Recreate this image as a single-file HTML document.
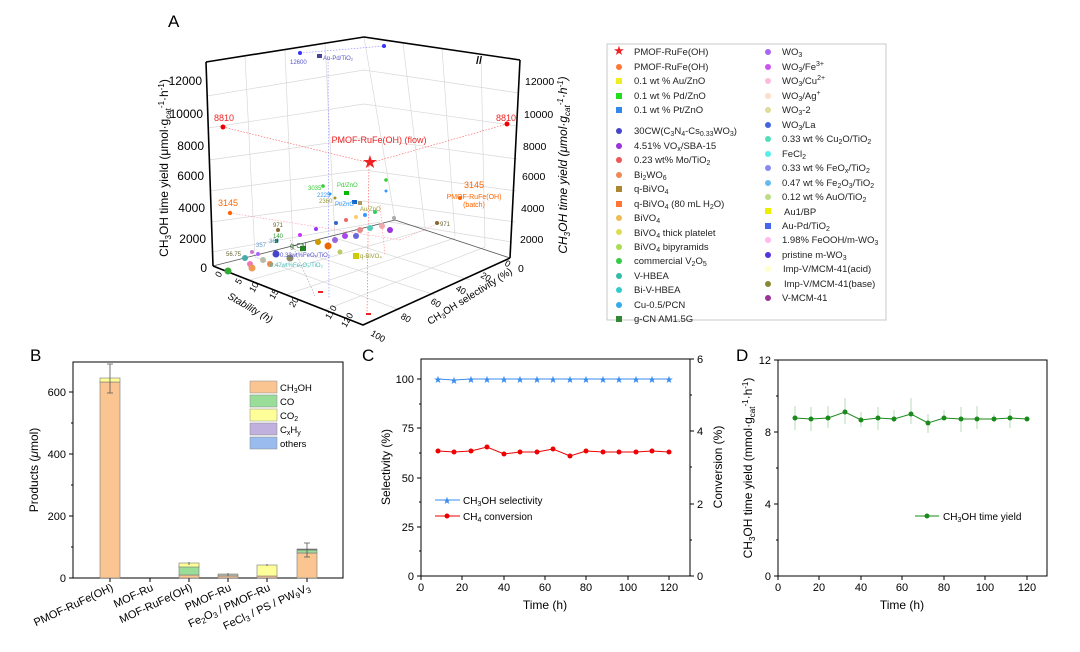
<!DOCTYPE html>
<html><head><meta charset="utf-8"><style>
html,body{margin:0;padding:0;background:#fff;}
svg{display:block;font-family:"Liberation Sans",Arial,sans-serif;}
</style></head><body>
<svg width="1080" height="652" viewBox="0 0 1080 652" xmlns="http://www.w3.org/2000/svg">
<rect width="1080" height="652" fill="#fff"/>
<!-- ============ PANEL A ============ -->
<text x="168" y="27" font-size="17">A</text>
<g stroke="#d8d8d8" stroke-width="0.7" fill="none">
 <line x1="207" y1="96" x2="364" y2="70"/><line x1="208" y1="128" x2="364" y2="104"/>
 <line x1="209" y1="160" x2="364" y2="138"/><line x1="210" y1="191" x2="364" y2="170"/>
 <line x1="211" y1="222" x2="364" y2="201"/><line x1="212" y1="252" x2="380" y2="222"/>
 <line x1="364" y1="70" x2="519" y2="93"/><line x1="364" y1="104" x2="518" y2="126"/>
 <line x1="364" y1="138" x2="517" y2="159"/><line x1="364" y1="170" x2="516" y2="191"/>
 <line x1="364" y1="201" x2="515" y2="222"/><line x1="390" y1="222" x2="512" y2="242"/>
 <line x1="245" y1="56" x2="255" y2="257"/><line x1="285" y1="50" x2="293" y2="249"/>
 <line x1="325" y1="43" x2="335" y2="238"/><line x1="364" y1="37" x2="395" y2="220"/>
 <line x1="403" y1="43" x2="425" y2="228"/><line x1="442" y1="48" x2="455" y2="236"/>
 <line x1="481" y1="54" x2="485" y2="247"/>
 <line x1="250" y1="280" x2="425" y2="230"/><line x1="285" y1="295" x2="455" y2="238"/>
 <line x1="325" y1="310" x2="485" y2="247"/>
 <line x1="255" y1="257" x2="400" y2="310"/><line x1="293" y1="249" x2="435" y2="295"/>
 <line x1="335" y1="238" x2="470" y2="280"/>
</g>
<g stroke="#555" stroke-width="0.8" fill="none">
 <line x1="213" y1="266" x2="395" y2="220"/><line x1="395" y1="220" x2="510" y2="258"/>
</g>
<g stroke="#000" stroke-width="1.6" fill="none">
 <polyline points="206,62 364,37 520,60"/>
 <line x1="206" y1="62" x2="213" y2="266"/>
 <line x1="520" y1="60" x2="510" y2="258"/>
 <polyline points="213,266 363,325 510,258"/>
</g>
<text x="476" y="64" font-size="11" font-weight="bold">//</text>
<g font-size="12" text-anchor="end">
 <text x="202" y="85">12000</text><text x="203" y="118">10000</text><text x="204" y="150">8000</text>
 <text x="204" y="180">6000</text><text x="205" y="212">4000</text><text x="206" y="243">2000</text><text x="207" y="272">0</text>
</g>
<g font-size="10.5">
 <text x="525" y="85">12000</text><text x="524" y="118">10000</text><text x="523" y="150">8000</text>
 <text x="522" y="180">6000</text><text x="521" y="212">4000</text><text x="520" y="243">2000</text><text x="518" y="272">0</text>
</g>
<text transform="translate(168,168) rotate(-90)" font-size="12" text-anchor="middle">CH<tspan font-size="8" dy="3">3</tspan><tspan dy="-3">OH time yield (μmol·g</tspan><tspan font-size="8" dy="3">cat</tspan><tspan font-size="8" dy="-7">-1</tspan><tspan dy="4">·h</tspan><tspan font-size="8" dy="-4">-1</tspan><tspan dy="4">)</tspan></text>
<text transform="translate(567,165) rotate(-90)" font-size="12" font-style="italic" text-anchor="middle">CH<tspan font-size="8" dy="3">3</tspan><tspan dy="-3">OH time yield (μmol·g</tspan><tspan font-size="8" dy="3">cat</tspan><tspan font-size="8" dy="-7">-1</tspan><tspan dy="4">·h</tspan><tspan font-size="8" dy="-4">-1</tspan><tspan dy="4">)</tspan></text>
<g font-size="9">
 <text transform="translate(220,278) rotate(-60)">0</text>
 <text transform="translate(240,285) rotate(-60)">5</text>
 <text transform="translate(254,293) rotate(-60)">10</text>
 <text transform="translate(274,300) rotate(-60)">15</text>
 <text transform="translate(294,308) rotate(-60)">20</text>
 <text transform="translate(330,320) rotate(-60)">110</text>
 <text transform="translate(346,328) rotate(-60)">120</text>
 <text transform="translate(227,298) rotate(30)" font-size="10" font-style="italic">Stability (h)</text>
</g>
<g font-size="9">
 <text transform="translate(370,335) rotate(30)">100</text>
 <text transform="translate(400,318) rotate(30)">80</text>
 <text transform="translate(430,303) rotate(30)">60</text>
 <text transform="translate(455,290) rotate(30)">40</text>
 <text transform="translate(480,277) rotate(30)">20</text>
 <text transform="translate(504,265) rotate(30)">0</text>
 <text transform="translate(430,325) rotate(-32)" font-size="10">CH<tspan font-size="7" dy="2">3</tspan><tspan dy="-2">OH selectivity (%)</tspan></text>
</g>
<g stroke-dasharray="1.5,1.5" stroke-width="0.6" fill="none">
 <line x1="223" y1="127" x2="370" y2="163" stroke="#f55"/><line x1="370" y1="163" x2="507" y2="124" stroke="#f55"/>
 <line x1="369" y1="163" x2="367" y2="315" stroke="#f55"/><line x1="328" y1="56" x2="329" y2="298" stroke="#88f"/>
 <line x1="300" y1="53" x2="385" y2="46" stroke="#88f"/>
 <line x1="230" y1="213" x2="400" y2="240" stroke="#f9a"/><line x1="440" y1="223" x2="400" y2="240" stroke="#f9a"/>
 <line x1="290" y1="240" x2="315" y2="296" stroke="#999"/><line x1="380" y1="205" x2="385" y2="255" stroke="#f88"/>
</g>
<g>
 <circle cx="223" cy="127" r="2.5" fill="#e00"/><circle cx="507" cy="124" r="2.5" fill="#e00"/>
 <circle cx="230" cy="213" r="2.2" fill="#f60"/><circle cx="460" cy="198" r="2" fill="#f60"/>
 <circle cx="300" cy="53" r="2" fill="#33f"/><rect x="317" y="54" width="5" height="4" fill="#449"/><circle cx="384" cy="46" r="2" fill="#33f"/>
 <circle cx="323" cy="186" r="1.8" fill="#3c3"/><rect x="344" y="191" width="5" height="4" fill="#0b0"/><circle cx="386" cy="180" r="1.8" fill="#3c3"/>
 <circle cx="330" cy="194" r="1.5" fill="#39f"/><circle cx="335" cy="198" r="1.5" fill="#993"/>
 <rect x="352" y="200" width="5" height="4" fill="#16c"/><rect x="358" y="201" width="4" height="4" fill="#a96"/>
 <circle cx="386" cy="191" r="1.5" fill="#39f"/><circle cx="437" cy="223" r="2" fill="#863"/>
 <circle cx="278" cy="230" r="2" fill="#863"/><rect x="275" y="239" width="3" height="4" fill="#080"/>
 <rect x="300" y="246" width="6" height="5" fill="#282"/><rect x="353" y="253" width="6" height="6" fill="#cc0"/>
 <rect x="318" y="291" width="5" height="2" fill="#e22"/><rect x="366" y="313" width="5" height="2" fill="#e22"/>
</g>
<g>
 <circle cx="245" cy="258" r="3" fill="#4aa"/><circle cx="250" cy="264" r="3" fill="#e7b"/><circle cx="263" cy="260" r="3" fill="#bba"/>
 <circle cx="270" cy="264" r="3" fill="#e84"/><circle cx="252" cy="252" r="2" fill="#c7c"/><circle cx="258" cy="254" r="2" fill="#a6f"/>
 <circle cx="276" cy="254" r="3.5" fill="#44c"/><circle cx="290" cy="258" r="3.5" fill="#886"/><circle cx="228" cy="271" r="3.5" fill="#3a3"/>
 <circle cx="252" cy="268" r="3.5" fill="#e95"/><circle cx="328" cy="246" r="3.5" fill="#e60"/>
 <circle cx="318" cy="242" r="3" fill="#c90"/><circle cx="335" cy="240" r="3" fill="#96d"/><circle cx="345" cy="236" r="3" fill="#a4e"/>
 <circle cx="360" cy="230" r="3" fill="#e88"/><circle cx="370" cy="228" r="3" fill="#5cb"/><circle cx="382" cy="226" r="3" fill="#eaa"/>
 <circle cx="356" cy="236" r="3" fill="#66d"/><circle cx="390" cy="230" r="3" fill="#93d"/><circle cx="394" cy="218" r="2" fill="#aaa"/>
 <circle cx="300" cy="235" r="2" fill="#c3f"/><circle cx="316" cy="229" r="2" fill="#93f"/><circle cx="336" cy="223" r="2" fill="#36c"/>
 <circle cx="346" cy="220" r="2" fill="#e66"/><circle cx="356" cy="217" r="2" fill="#fc6"/><circle cx="365" cy="215" r="2" fill="#39f"/>
 <circle cx="375" cy="212" r="2" fill="#3c6"/><circle cx="340" cy="252" r="2.5" fill="#bc6"/>
</g>
<text x="370" y="168" font-size="18" fill="#e22" text-anchor="middle">★</text>
<g font-size="6">
 <text x="290" y="64" fill="#55c">12600</text><text x="323" y="60" fill="#55c">Au-Pd/TiO₂</text>
 <text x="308" y="190" fill="#3c3">3035</text><text x="337" y="187" fill="#3c3">Pd/ZnO</text>
 <text x="317" y="197" fill="#39f">2225</text><text x="319" y="203" fill="#993">2360</text>
 <text x="335" y="206" fill="#39f">Pt/ZnO</text><text x="360" y="211" fill="#993">Au/ZnO</text>
 <text x="273" y="227" fill="#663">971</text><text x="273" y="238" fill="#393">140</text>
 <text x="256" y="247" fill="#69c">357</text><text x="256" y="247" fill="#69c" dx="13" dy="-4">360</text>
 <text x="226" y="256" fill="#663">56.75</text><text x="290" y="248" fill="#363" font-size="7">g-CN</text>
 <text x="280" y="257" fill="#55c">0.33wt%FeOₓ/TiO₂</text><text x="270" y="267" fill="#4bb">0.47wt%Fe₂O₃/TiO₂</text>
 <text x="360" y="258" fill="#993">q-BiVO₄</text><text x="440" y="226" fill="#663">971</text>
</g>
<text x="224" y="121" font-size="9" fill="#e22" text-anchor="middle">8810</text>
<text x="506" y="121" font-size="9" fill="#e22" text-anchor="middle">8810</text>
<text x="228" y="206" font-size="9" fill="#f60" text-anchor="middle">3145</text>
<text x="474" y="188" font-size="9" fill="#f60" text-anchor="middle">3145</text>
<text x="474" y="199" font-size="7" fill="#f60" text-anchor="middle">PMOF-RuFe(OH)</text>
<text x="474" y="207" font-size="7" fill="#f60" text-anchor="middle">(batch)</text>
<text x="379" y="143" font-size="9" fill="#e22" text-anchor="middle">PMOF-RuFe(OH) (flow)</text>
<!-- legend -->
<rect x="607" y="44" width="279" height="276" fill="#fff" stroke="#bbb" stroke-width="0.8"/>
<g font-size="9.5" fill="#222">
 <text x="619" y="55" font-size="13" fill="#e22" text-anchor="middle">★</text>
 <circle cx="619" cy="67" r="3" fill="#f73"/><rect x="616" y="78" width="6" height="6" fill="#ee2"/>
 <rect x="616" y="93" width="6" height="6" fill="#2d2"/><rect x="616" y="107" width="6" height="6" fill="#38e"/>
 <circle cx="619" cy="131" r="3" fill="#44c"/><circle cx="619" cy="146" r="3" fill="#93d"/>
 <circle cx="619" cy="160" r="3" fill="#e55"/><circle cx="619" cy="175" r="3" fill="#e85"/>
 <rect x="616" y="186" width="6" height="6" fill="#a83"/><rect x="616" y="201" width="6" height="6" fill="#f73"/>
 <circle cx="619" cy="218" r="3" fill="#eb5"/><circle cx="619" cy="232" r="3" fill="#dd5"/>
 <circle cx="619" cy="247" r="3" fill="#ad5"/><circle cx="619" cy="261" r="3" fill="#3c4"/>
 <circle cx="619" cy="276" r="3" fill="#3ba"/><circle cx="619" cy="290" r="3" fill="#3cc"/>
 <circle cx="619" cy="305" r="3" fill="#3ae"/><rect x="616" y="316" width="6" height="6" fill="#383"/>
 <text x="634" y="55">PMOF-RuFe(OH)</text><text x="634" y="70">PMOF-RuFe(OH)</text>
 <text x="634" y="84">0.1 wt % Au/ZnO</text><text x="634" y="99">0.1 wt % Pd/ZnO</text>
 <text x="634" y="113">0.1 wt % Pt/ZnO</text>
 <text x="634" y="134">30CW(C<tspan font-size="7" dy="2">3</tspan><tspan dy="-2">N</tspan><tspan font-size="7" dy="2">4</tspan><tspan dy="-2">-Cs</tspan><tspan font-size="7" dy="2">0.33</tspan><tspan dy="-2">WO</tspan><tspan font-size="7" dy="2">3</tspan><tspan dy="-2">)</tspan></text>
 <text x="634" y="149">4.51% VO<tspan font-size="7" dy="2">x</tspan><tspan dy="-2">/SBA-15</tspan></text>
 <text x="634" y="163">0.23 wt% Mo/TiO<tspan font-size="7" dy="2">2</tspan></text>
 <text x="634" y="178">Bi<tspan font-size="7" dy="2">2</tspan><tspan dy="-2">WO</tspan><tspan font-size="7" dy="2">6</tspan></text>
 <text x="634" y="192">q-BiVO<tspan font-size="7" dy="2">4</tspan></text>
 <text x="634" y="207">q-BiVO<tspan font-size="7" dy="2">4</tspan><tspan dy="-2"> (80 mL H</tspan><tspan font-size="7" dy="2">2</tspan><tspan dy="-2">O)</tspan></text>
 <text x="634" y="221">BiVO<tspan font-size="7" dy="2">4</tspan></text>
 <text x="634" y="236">BiVO<tspan font-size="7" dy="2">4</tspan><tspan dy="-2"> thick platelet</tspan></text>
 <text x="634" y="250">BiVO<tspan font-size="7" dy="2">4</tspan><tspan dy="-2"> bipyramids</tspan></text>
 <text x="634" y="264">commercial V<tspan font-size="7" dy="2">2</tspan><tspan dy="-2">O</tspan><tspan font-size="7" dy="2">5</tspan></text>
 <text x="634" y="279">V-HBEA</text><text x="634" y="293">Bi-V-HBEA</text><text x="634" y="308">Cu-0.5/PCN</text>
 <text x="634" y="322">g-CN AM1.5G</text>
</g>
<g font-size="9.5" fill="#222">
 <circle cx="768" cy="52" r="3" fill="#a6e"/><circle cx="768" cy="67" r="3" fill="#c5e"/>
 <circle cx="768" cy="81" r="3" fill="#fbd"/><circle cx="768" cy="96" r="3" fill="#fdc"/>
 <circle cx="768" cy="110" r="3" fill="#dd9"/><circle cx="768" cy="125" r="3" fill="#46d"/>
 <circle cx="768" cy="139" r="3" fill="#5db"/><circle cx="768" cy="154" r="3" fill="#5ee"/>
 <circle cx="768" cy="168" r="3" fill="#88e"/><circle cx="768" cy="183" r="3" fill="#6be"/>
 <circle cx="768" cy="197" r="3" fill="#bd8"/><rect x="765" y="208" width="6" height="6" fill="#ee0"/>
 <rect x="765" y="223" width="6" height="6" fill="#46e"/><circle cx="768" cy="240" r="3" fill="#fbe"/>
 <circle cx="768" cy="255" r="3" fill="#53d"/><circle cx="768" cy="269" r="3" fill="#ffc"/>
 <circle cx="768" cy="284" r="3" fill="#883"/><circle cx="768" cy="298" r="3" fill="#939"/>
 <text x="782" y="55">WO<tspan font-size="7" dy="2">3</tspan></text>
 <text x="782" y="70">WO<tspan font-size="7" dy="2">3</tspan><tspan dy="-2">/Fe</tspan><tspan font-size="7" dy="-4">3+</tspan></text>
 <text x="782" y="84">WO<tspan font-size="7" dy="2">3</tspan><tspan dy="-2">/Cu</tspan><tspan font-size="7" dy="-4">2+</tspan></text>
 <text x="782" y="99">WO<tspan font-size="7" dy="2">3</tspan><tspan dy="-2">/Ag</tspan><tspan font-size="7" dy="-4">+</tspan></text>
 <text x="782" y="113">WO<tspan font-size="7" dy="2">3</tspan><tspan dy="-2">-2</tspan></text>
 <text x="782" y="128">WO<tspan font-size="7" dy="2">3</tspan><tspan dy="-2">/La</tspan></text>
 <text x="782" y="142">0.33 wt % Cu<tspan font-size="7" dy="2">2</tspan><tspan dy="-2">O/TiO</tspan><tspan font-size="7" dy="2">2</tspan></text>
 <text x="782" y="157">FeCl<tspan font-size="7" dy="2">2</tspan></text>
 <text x="782" y="171">0.33 wt % FeO<tspan font-size="7" dy="2">x</tspan><tspan dy="-2">/TiO</tspan><tspan font-size="7" dy="2">2</tspan></text>
 <text x="782" y="186">0.47 wt % Fe<tspan font-size="7" dy="2">2</tspan><tspan dy="-2">O</tspan><tspan font-size="7" dy="2">3</tspan><tspan dy="-2">/TiO</tspan><tspan font-size="7" dy="2">2</tspan></text>
 <text x="782" y="200">0.12 wt % AuO/TiO<tspan font-size="7" dy="2">2</tspan></text>
 <text x="784" y="215">Au1/BP</text>
 <text x="782" y="229">Au-Pd/TiO<tspan font-size="7" dy="2">2</tspan></text>
 <text x="782" y="243">1.98% FeOOH/m-WO<tspan font-size="7" dy="2">3</tspan></text>
 <text x="782" y="258">pristine m-WO<tspan font-size="7" dy="2">3</tspan></text>
 <text x="783" y="272">Imp-V/MCM-41(acid)</text><text x="784" y="287">Imp-V/MCM-41(base)</text>
 <text x="782" y="301">V-MCM-41</text>
</g>
<!-- ============ PANEL B ============ -->
<text x="30" y="361" font-size="17">B</text>
<rect x="73" y="362" width="270" height="216" fill="none" stroke="#000" stroke-width="1"/>
<g stroke="#000" stroke-width="1">
 <line x1="69" y1="578" x2="73" y2="578"/><line x1="69" y1="516" x2="73" y2="516"/><line x1="69" y1="454" x2="73" y2="454"/><line x1="69" y1="392" x2="73" y2="392"/>
 <line x1="71" y1="547" x2="73" y2="547"/><line x1="71" y1="485" x2="73" y2="485"/><line x1="71" y1="423" x2="73" y2="423"/>
 <line x1="110" y1="578" x2="110" y2="582"/><line x1="150" y1="578" x2="150" y2="582"/><line x1="189" y1="578" x2="189" y2="582"/>
 <line x1="228" y1="578" x2="228" y2="582"/><line x1="267" y1="578" x2="267" y2="582"/><line x1="307" y1="578" x2="307" y2="582"/>
</g>
<g font-size="11" text-anchor="end">
 <text x="66" y="582">0</text><text x="66" y="520">200</text><text x="66" y="458">400</text><text x="66" y="396">600</text>
</g>
<text transform="translate(38,470) rotate(-90)" font-size="12" text-anchor="middle">Products (<tspan font-style="italic">μ</tspan>mol)</text>
<g stroke="#777" stroke-width="0.6">
 <rect x="100" y="382" width="20" height="196" fill="#fbc592"/><rect x="100" y="378" width="20" height="4" fill="#ffff99"/>
 <rect x="179" y="575" width="20" height="3" fill="#fbc592"/><rect x="179" y="566" width="20" height="9" fill="#99dd99"/><rect x="179" y="563" width="20" height="4" fill="#ffff99"/>
 <rect x="218" y="576" width="20" height="2" fill="#fbc592"/><rect x="218" y="574" width="20" height="2" fill="#bba"/>
 <rect x="257" y="576" width="20" height="2" fill="#fbc592"/><rect x="257" y="565" width="20" height="11" fill="#ffff99"/>
 <rect x="297" y="553" width="20" height="25" fill="#fbc592"/><rect x="297" y="550" width="20" height="3" fill="#99dd99"/><rect x="297" y="549" width="20" height="1" fill="#666"/>
</g>
<g stroke="#555" stroke-width="0.8" fill="none">
 <path d="M110 364V393M107 364h6M107 393h6"/><path d="M307 543v14M304 543h6M304 557h6"/>
 <path d="M189 562v3M228 573v3M267 564v2"/>
</g>
<g stroke="#888" stroke-width="0.5">
 <rect x="250" y="381" width="27" height="12" fill="#fbc592"/><rect x="250" y="395" width="27" height="12" fill="#99dd99"/>
 <rect x="250" y="409" width="27" height="12" fill="#ffff99"/><rect x="250" y="423" width="27" height="12" fill="#c0b0dd"/>
 <rect x="250" y="437" width="27" height="12" fill="#99bbee"/>
</g>
<g font-size="9.5">
 <text x="280" y="391">CH<tspan font-size="7" dy="2">3</tspan><tspan dy="-2">OH</tspan></text><text x="280" y="405">CO</text>
 <text x="280" y="419">CO<tspan font-size="7" dy="2">2</tspan></text>
 <text x="280" y="433">C<tspan font-size="7" dy="2">x</tspan><tspan dy="-2">H</tspan><tspan font-size="7" dy="2">y</tspan></text>
 <text x="280" y="447">others</text>
</g>
<g font-size="11" text-anchor="end">
 <text transform="translate(114,590) rotate(-25)">PMOF-RuFe(OH)</text>
 <text transform="translate(154,590) rotate(-25)">MOF-Ru</text>
 <text transform="translate(193,590) rotate(-25)">MOF-RuFe(OH)</text>
 <text transform="translate(232,590) rotate(-25)">PMOF-Ru</text>
 <text transform="translate(271,590) rotate(-25)">Fe<tspan font-size="8" dy="2">2</tspan><tspan dy="-2">O</tspan><tspan font-size="8" dy="2">3</tspan><tspan dy="-2"> / PMOF-Ru</tspan></text>
 <text transform="translate(311,590) rotate(-25)">FeCl<tspan font-size="8" dy="2">3</tspan><tspan dy="-2"> / PS / PW</tspan><tspan font-size="8" dy="2">9</tspan><tspan dy="-2">V</tspan><tspan font-size="8" dy="2">3</tspan></text>
</g>
<!-- ============ PANEL C ============ -->
<text x="362" y="361" font-size="17">C</text>
<rect x="421" y="359" width="269" height="217" fill="none" stroke="#000" stroke-width="1"/>
<g stroke="#000" stroke-width="1">
 <path d="M417 576h4M417 527h4M417 478h4M417 428h4M417 379h4M419 551h2M419 502h2M419 453h2M419 404h2"/>
 <path d="M690 576h4M690 504h4M690 431h4M690 359h4M690 540h2M690 467h2M690 395h2"/>
 <path d="M421 576v4M462 576v4M504 576v4M545 576v4M586 576v4M628 576v4M669 576v4"/>
</g>
<g font-size="11" text-anchor="end">
 <text x="414" y="580">0</text><text x="414" y="531">25</text><text x="414" y="482">50</text><text x="414" y="432">75</text><text x="414" y="383">100</text>
</g>
<g font-size="11"><text x="697" y="580">0</text><text x="697" y="508">2</text><text x="697" y="435">4</text><text x="697" y="363">6</text></g>
<g font-size="11" text-anchor="middle">
 <text x="421" y="591">0</text><text x="462" y="591">20</text><text x="504" y="591">40</text><text x="545" y="591">60</text><text x="586" y="591">80</text><text x="628" y="591">100</text><text x="669" y="591">120</text>
 <text x="545" y="609" font-size="12">Time (h)</text>
</g>
<text transform="translate(390,467) rotate(-90)" font-size="12" text-anchor="middle">Selectivity (%)</text>
<text transform="translate(722,467) rotate(-90)" font-size="12" text-anchor="middle">Conversion (%)</text>
<polyline fill="none" stroke="#3b8cf0" stroke-width="1" points="438,379 454,380 471,379 487,379 504,379 520,379 537,379 553,379 570,379 586,379 603,379 619,379 636,379 652,379 669,379"/>
<g fill="#3b8cf0" font-size="10" text-anchor="middle">
 <text x="438" y="383">★</text><text x="454" y="384">★</text><text x="471" y="383">★</text><text x="487" y="383">★</text><text x="504" y="383">★</text><text x="520" y="383">★</text><text x="537" y="383">★</text><text x="553" y="383">★</text><text x="570" y="383">★</text><text x="586" y="383">★</text><text x="603" y="383">★</text><text x="619" y="383">★</text><text x="636" y="383">★</text><text x="652" y="383">★</text><text x="669" y="383">★</text>
</g>
<polyline fill="none" stroke="#e00" stroke-width="1" points="438,451 454,452 471,451 487,447 504,454 520,452 537,452 553,449 570,456 586,451 603,452 619,452 636,452 652,451 669,452"/>
<g fill="#e00">
 <circle cx="438" cy="451" r="2.5"/><circle cx="454" cy="452" r="2.5"/><circle cx="471" cy="451" r="2.5"/><circle cx="487" cy="447" r="2.5"/><circle cx="504" cy="454" r="2.5"/><circle cx="520" cy="452" r="2.5"/><circle cx="537" cy="452" r="2.5"/><circle cx="553" cy="449" r="2.5"/><circle cx="570" cy="456" r="2.5"/><circle cx="586" cy="451" r="2.5"/><circle cx="603" cy="452" r="2.5"/><circle cx="619" cy="452" r="2.5"/><circle cx="636" cy="452" r="2.5"/><circle cx="652" cy="451" r="2.5"/><circle cx="669" cy="452" r="2.5"/>
</g>
<line x1="435" y1="500" x2="460" y2="500" stroke="#3b8cf0"/><text x="447" y="504" font-size="10" fill="#3b8cf0" text-anchor="middle">★</text>
<line x1="435" y1="516" x2="460" y2="516" stroke="#e00"/><circle cx="447" cy="516" r="2.5" fill="#e00"/>
<g font-size="10">
 <text x="463" y="504">CH<tspan font-size="7" dy="2">3</tspan><tspan dy="-2">OH selectivity</tspan></text>
 <text x="463" y="520">CH<tspan font-size="7" dy="2">4</tspan><tspan dy="-2"> conversion</tspan></text>
</g>
<!-- ============ PANEL D ============ -->
<text x="736" y="361" font-size="17">D</text>
<rect x="778" y="360" width="269" height="216" fill="none" stroke="#000" stroke-width="1"/>
<g stroke="#000" stroke-width="1">
 <path d="M774 576h4M774 504h4M774 432h4M774 360h4M776 540h2M776 468h2M776 396h2"/>
 <path d="M778 576v4M819 576v4M861 576v4M902 576v4M944 576v4M985 576v4M1027 576v4"/>
</g>
<g font-size="11" text-anchor="end">
 <text x="771" y="580">0</text><text x="771" y="508">4</text><text x="771" y="436">8</text><text x="771" y="364">12</text>
</g>
<g font-size="11" text-anchor="middle">
 <text x="778" y="591">0</text><text x="819" y="591">20</text><text x="861" y="591">40</text><text x="902" y="591">60</text><text x="944" y="591">80</text><text x="985" y="591">100</text><text x="1027" y="591">120</text>
 <text x="902" y="609" font-size="12">Time (h)</text>
</g>
<text transform="translate(752,468) rotate(-90)" font-size="12" text-anchor="middle">CH<tspan font-size="8" dy="3">3</tspan><tspan dy="-3">OH time yield (mmol·g</tspan><tspan font-size="8" dy="3">cat</tspan><tspan font-size="8" dy="-7">-1</tspan><tspan dy="4">·h</tspan><tspan font-size="8" dy="-4">-1</tspan><tspan dy="4">)</tspan></text>
<g stroke="#9c9" stroke-width="0.7" fill="none">
 <path d="M795 406v24M811 407v24M828 406v22M845 398v26M861 412v15M878 407v23M894 410v12M911 398v26M928 414v19M944 410v10M961 407v25M977 406v23M994 414v8M1010 409v19"/>
</g>
<polyline fill="none" stroke="#1a8a1a" stroke-width="1" points="795,418 811,419 828,418 845,412 861,420 878,418 894,419 911,414 928,423 944,418 961,419 977,419 994,419 1010,418 1027,419"/>
<g fill="#1a8a1a">
 <circle cx="795" cy="418" r="2.5"/><circle cx="811" cy="419" r="2.5"/><circle cx="828" cy="418" r="2.5"/><circle cx="845" cy="412" r="2.5"/><circle cx="861" cy="420" r="2.5"/><circle cx="878" cy="418" r="2.5"/><circle cx="894" cy="419" r="2.5"/><circle cx="911" cy="414" r="2.5"/><circle cx="928" cy="423" r="2.5"/><circle cx="944" cy="418" r="2.5"/><circle cx="961" cy="419" r="2.5"/><circle cx="977" cy="419" r="2.5"/><circle cx="994" cy="419" r="2.5"/><circle cx="1010" cy="418" r="2.5"/><circle cx="1027" cy="419" r="2.5"/>
</g>
<line x1="915" y1="516" x2="939" y2="516" stroke="#1a8a1a"/><circle cx="927" cy="516" r="2.5" fill="#1a8a1a"/>
<text x="943" y="520" font-size="10">CH<tspan font-size="7" dy="2">3</tspan><tspan dy="-2">OH time yield</tspan></text>
</svg>
</body></html>
